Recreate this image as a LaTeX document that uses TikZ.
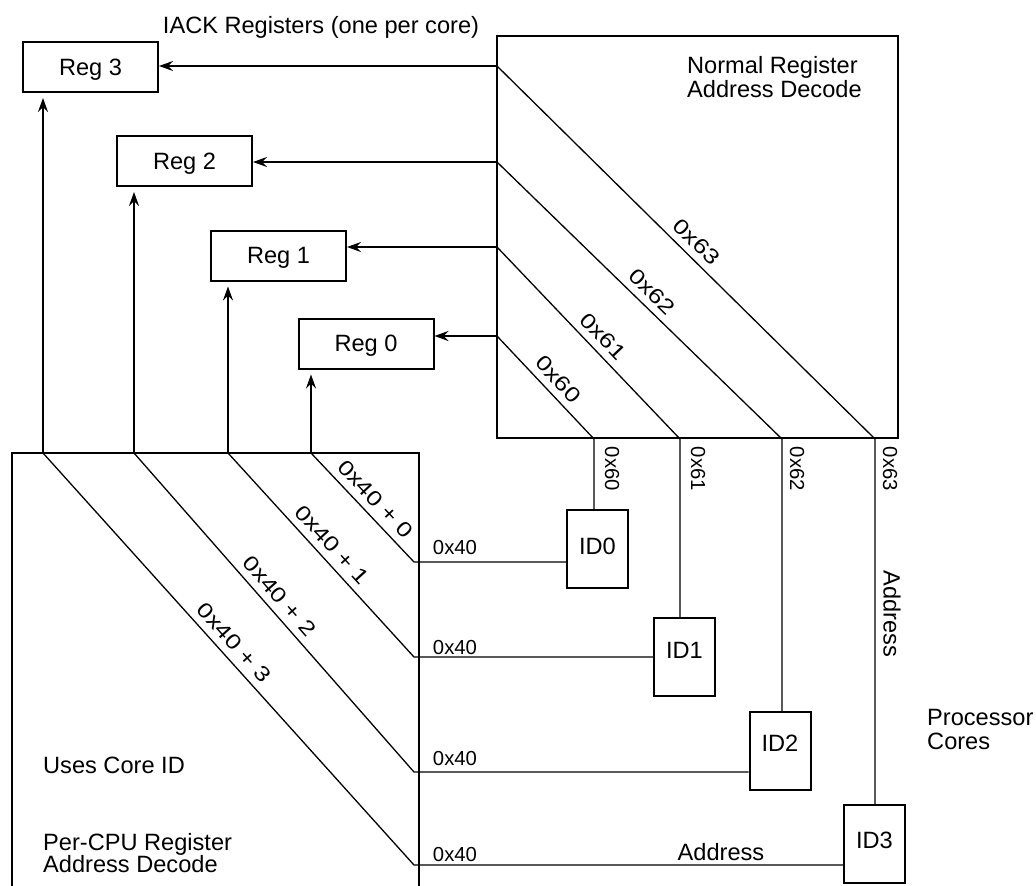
\documentclass[tikz,border=0pt]{standalone}
\usepackage{fontspec}
\setmainfont{Liberation Sans}
\usetikzlibrary{arrows.meta}
\begin{document}
\begin{tikzpicture}[x=1pt,y=-1pt,
  every node/.style={font=\fontsize{23.6}{24}\selectfont},
  box/.style={draw, line width=2pt},
  wire/.style={line width=1.3pt},
  arr/.style={line width=2pt, -{Stealth[length=14pt,width=10pt,inset=5pt]}},
  reg/.style={box, minimum width=135pt, minimum height=50pt, inner sep=0pt, text depth=0pt},
  core/.style={box, minimum width=61pt, minimum height=78pt, inner sep=0pt},
  small/.style={font=\fontsize{20.3}{24}\selectfont, inner sep=0pt},
  dlab/.style={font=\fontsize{21}{24}\selectfont, sloped, above=7pt, inner sep=0pt},
]
\useasboundingbox (0,0) rectangle (1036,886);

% IACK registers
\node[reg] (r3) at (90.5,67) {Reg 3};
\node[reg] (r2) at (184.5,161) {Reg 2};
\node[reg] (r1) at (278.5,255.5) {Reg 1};
\node[reg] (r0) at (366,343.5) {Reg 0};
\node[anchor=base] (title) at (321,33.5) {IACK Registers (one per core)};

% Normal register decode
\node[box, minimum width=401pt, minimum height=402pt, inner sep=0pt] (nrm) at (697.5,237) {};
\node[anchor=north west, align=left, inner sep=0pt] (nrmtxt) at (687,56.5) {Normal Register\\Address Decode};

% Per-CPU decode
\draw[box] (12,886) -- (12,453) -- (419,453) -- (419,886);
\node[anchor=north west, inner sep=0pt] (uses) at (43,756.5) {Uses Core ID};
\node[anchor=north west, align=left, inner sep=0pt, font=\fontsize{23.6}{22}\selectfont] (percpu) at (43,833.5) {Per-CPU Register\\Address Decode};

% Cores
\node[core, text depth=4.6pt] (id0) at (597.5,549) {ID0};
\node[core, text depth=14pt] (id1) at (684.5,657) {ID1};
\node[core, text depth=16pt] (id2) at (780,751) {ID2};
\node[core, text depth=8pt] (id3) at (874.5,844) {ID3};
\node[anchor=north west, align=left, inner sep=0pt] (proc) at (927,709.5) {Processor\\Cores};

% coordinates
\coordinate (n3) at (497,66);
\coordinate (n2) at (497,162);
\coordinate (n1) at (497,247);
\coordinate (n0) at (497,336);
\coordinate (b3) at (875,439);
\coordinate (b2) at (782,439);
\coordinate (b1) at (680,439);
\coordinate (b0) at (594,439);
\coordinate (p3) at (43,453);
\coordinate (p2) at (134,453);
\coordinate (p1) at (228,453);
\coordinate (p0) at (311,453);
\coordinate (q3) at (414,865);
\coordinate (q2) at (414,772);
\coordinate (q1) at (414,657);
\coordinate (q0) at (414,562);

% arrows into registers
\draw[arr] (n3) -- (n3 -| r3.east);
\draw[arr] (n2) -- (n2 -| r2.east);
\draw[arr] (n1) -- (n1 -| r1.east);
\draw[arr] (n0) -- (n0 -| r0.east);
\draw[arr, shorten >=5pt] (p3) -- (p3 |- r3.south);
\draw[arr, shorten >=5pt] (p2) -- (p2 |- r2.south);
\draw[arr, shorten >=5pt] (p1) -- (p1 |- r1.south);
\draw[arr, shorten >=5pt] (p0) -- (p0 |- r0.south);

% normal decode wires
\draw[wire] (n3) -- node[dlab, pos=0.50] {\scalebox{1.22}[1]{0x63}} (b3) -- (b3 |- id3.north);
\draw[wire] (n2) -- node[dlab, pos=0.507] {\scalebox{1.22}[1]{0x62}} (b2) -- (b2 |- id2.north);
\draw[wire] (n1) -- node[dlab, pos=0.52] {\scalebox{1.22}[1]{0x61}} (b1) -- (b1 |- id1.north);
\draw[wire] (n0) -- node[dlab, pos=0.52] {\scalebox{1.22}[1]{0x60}} (b0) -- (b0 |- id0.north);

% per-CPU decode wires
\draw[wire] (p0) -- node[dlab, pos=0.52] {\scalebox{1.22}[1]{0x40 + 0}} (q0) -- (q0 -| id0.west);
\draw[wire] (p1) -- node[dlab, pos=0.50] {\scalebox{1.22}[1]{0x40 + 1}} (q1) -- (q1 -| id1.west);
\draw[wire] (p2) -- node[dlab, pos=0.48] {\scalebox{1.22}[1]{0x40 + 2}} (q2) -- (q2 -| id2.west);
\draw[wire] (p3) -- node[dlab, pos=0.485] {\scalebox{1.22}[1]{0x40 + 3}} (q3) -- (q3 -| id3.west);

% small labels
\node[small] (la) at (455,548) {0x40};
\node[small] (lb) at (455,648) {0x40};
\node[small] (lc) at (455,759) {0x40};
\node[small] (ld) at (455,855) {0x40};
\node[small, rotate=-90] (l60) at (612,469) {0x60};
\node[small, rotate=-90] (l61) at (698,469) {0x61};
\node[small, rotate=-90] (l62) at (797,469) {0x62};
\node[small, rotate=-90] (l63) at (890,469) {0x63};
\node[rotate=-90] (addrv) at (892,614) {Address};
\node (addrh) at (721,852) {Address};
\end{tikzpicture}
\end{document}
